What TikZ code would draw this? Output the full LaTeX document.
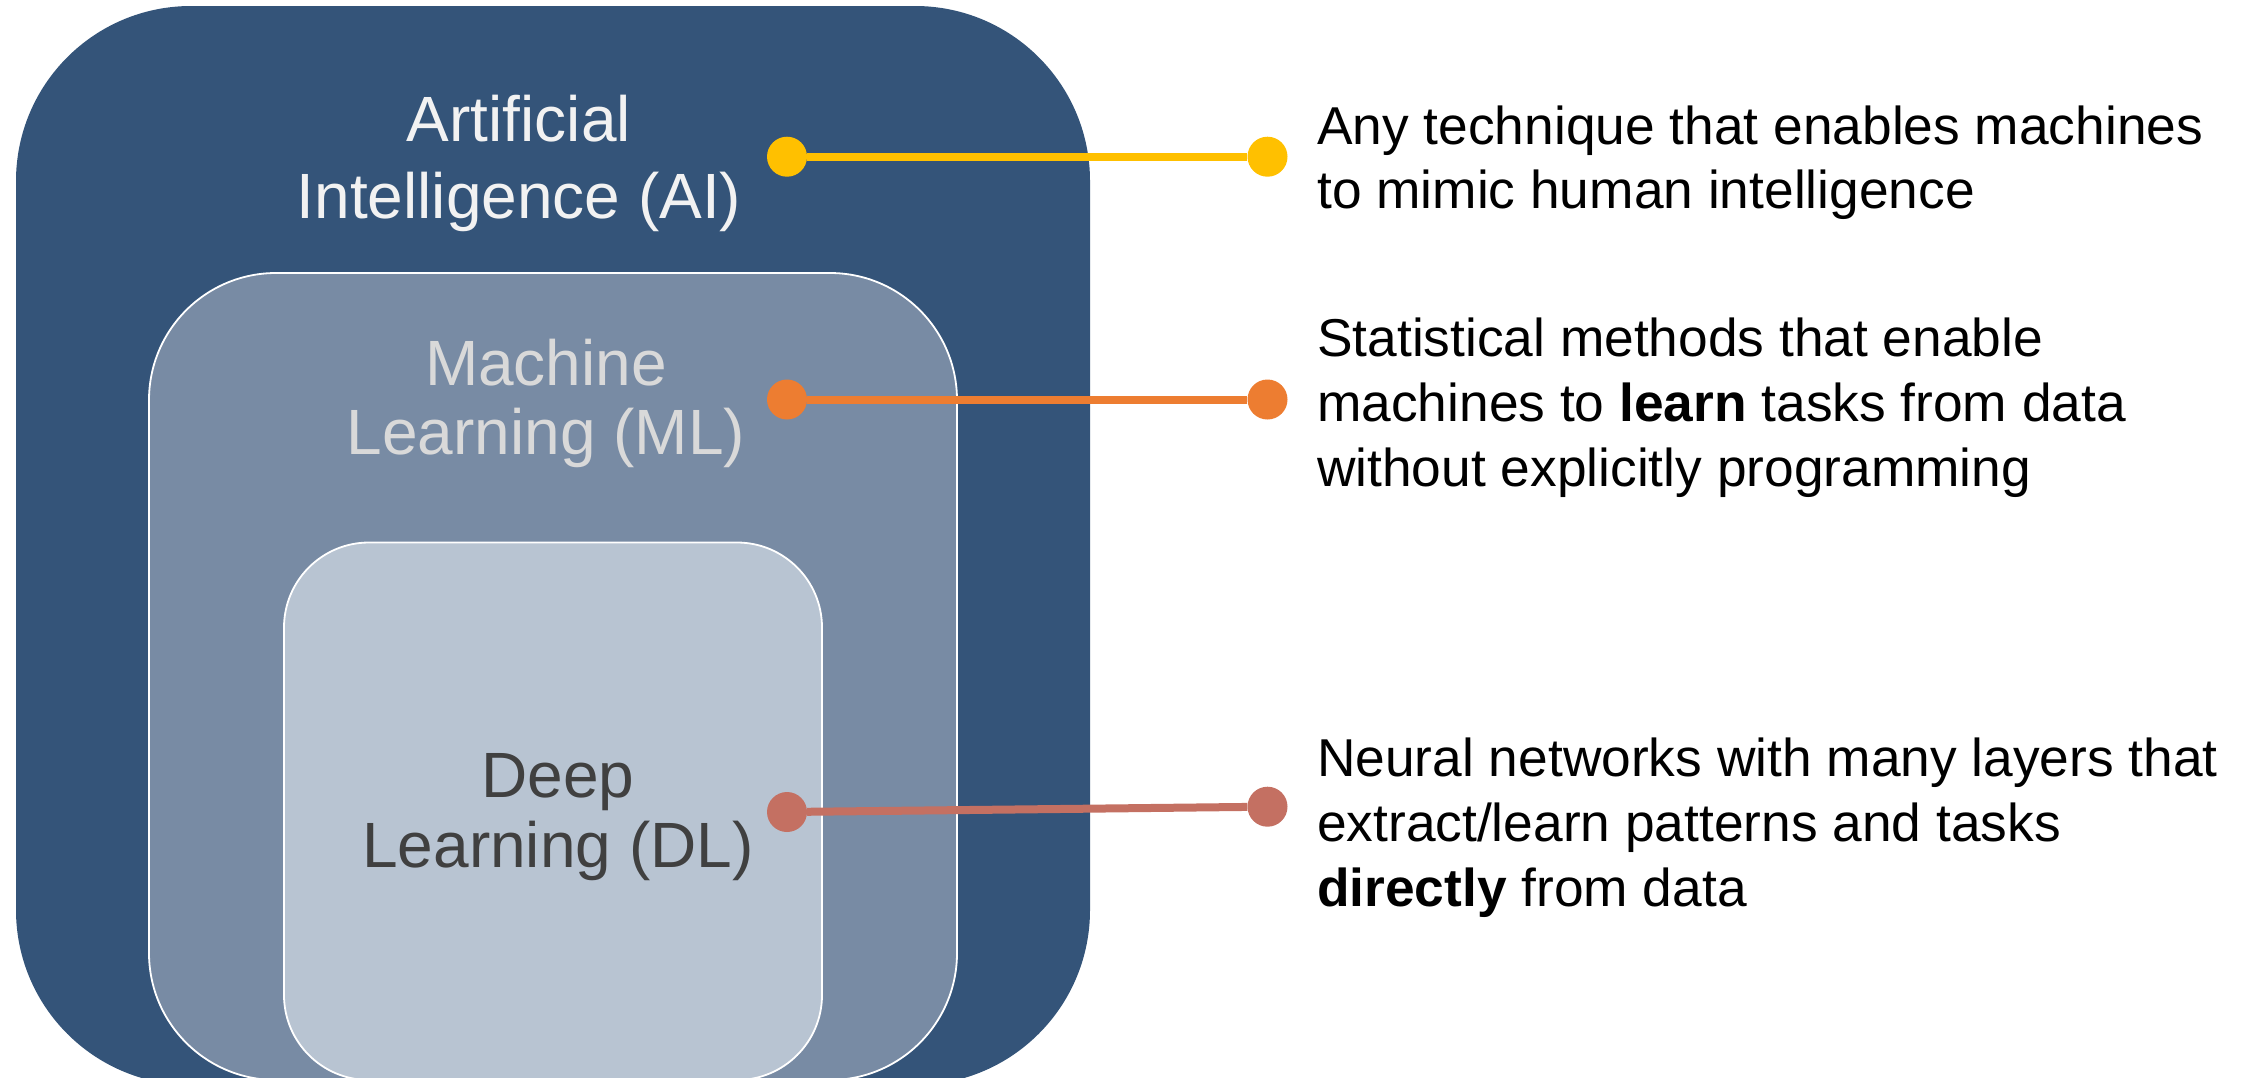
\documentclass[tikz,border=0pt]{standalone}
\usepackage{fontspec}
\setmainfont{Liberation Sans}
\definecolor{aiblue}{RGB}{52,84,121}
\definecolor{mlblue}{RGB}{120,139,164}
\definecolor{dlblue}{RGB}{184,196,210}
\definecolor{dotyellow}{RGB}{255,192,0}
\definecolor{dotorange}{RGB}{237,125,49}
\definecolor{dotred}{RGB}{196,112,98}
\definecolor{aitext}{RGB}{242,242,242}
\definecolor{mltext}{RGB}{217,217,217}
\definecolor{dltext}{RGB}{64,64,64}
\tikzset{
  layerbox/.style={rectangle, inner sep=0pt, outer sep=0pt},
  boxlabel/.style={inner sep=0pt, anchor=base, font=\fontsize{64}{76}\selectfont},
  desc/.style={inner sep=0pt, anchor=base west, font=\fontsize{53.3}{64}\selectfont, text=black},
  dotnode/.style={circle, inner sep=0pt, minimum size=40pt},
  conn/.style={line width=8pt},
}
\begin{document}
\begin{tikzpicture}[x=1pt,y=-1pt]
\useasboundingbox (0,0) rectangle (2248,1077);
\clip (0,0) rectangle (2248,1077);
% layered boxes
\node[layerbox, fill=aiblue, rounded corners=175pt, minimum width=1074pt, minimum height=1079pt] (ai) at (553,545.5) {};
\node[layerbox, fill=mlblue, draw=white, line width=1.8pt, rounded corners=127pt, minimum width=808pt, minimum height=807pt] (ml) at (553,676.5) {};
\node[layerbox, fill=dlblue, draw=white, line width=1.8pt, rounded corners=85pt, minimum width=538pt, minimum height=537.5pt] (dl) at (553,811.25) {};
% box labels
\node[boxlabel, text=aitext] (ai1) at (519,141) {Artificial};
\node[boxlabel, text=aitext] (ai2) at (519,218.7) {Intelligence (AI)};
\node[boxlabel, text=mltext] (ml1) at (546,385) {Machine};
\node[boxlabel, text=mltext] (ml2) at (546,454.5) {Learning (ML)};
\node[boxlabel, text=dltext] (dl1) at (558,797) {Deep};
\node[boxlabel, text=dltext] (dl2) at (558,867) {Learning (DL)};
% dots and connectors
\node[dotnode, fill=dotyellow] (ya) at (787,156.7) {};
\node[dotnode, fill=dotyellow] (yb) at (1267.5,156.7) {};
\node[dotnode, fill=dotorange] (oa) at (787,399.5) {};
\node[dotnode, fill=dotorange] (ob) at (1267.5,399.5) {};
\node[dotnode, fill=dotred] (ra) at (787,812) {};
\node[dotnode, fill=dotred] (rb) at (1267.5,806.7) {};
\draw[conn, dotyellow] (ya) -- (yb);
\draw[conn, dotorange] (oa) -- (ob);
\draw[conn, dotred] (ra) -- (rb);
% descriptions
\node[desc] (t1a) at (1317,144) {Any technique that enables machines};
\node[desc] (t1b) at (1317,208) {to mimic human intelligence};
\node[desc] (t2a) at (1317,356) {Statistical methods that enable};
\node[desc] (t2b) at (1317,421) {machines to \textbf{learn} tasks from data};
\node[desc] (t2c) at (1317,486) {without explicitly programming};
\node[desc] (t3a) at (1317,776) {Neural networks with many layers that};
\node[desc] (t3b) at (1317,841) {extract/learn patterns and tasks};
\node[desc] (t3c) at (1317,906) {\textbf{directly} from data};
\end{tikzpicture}
\end{document}
